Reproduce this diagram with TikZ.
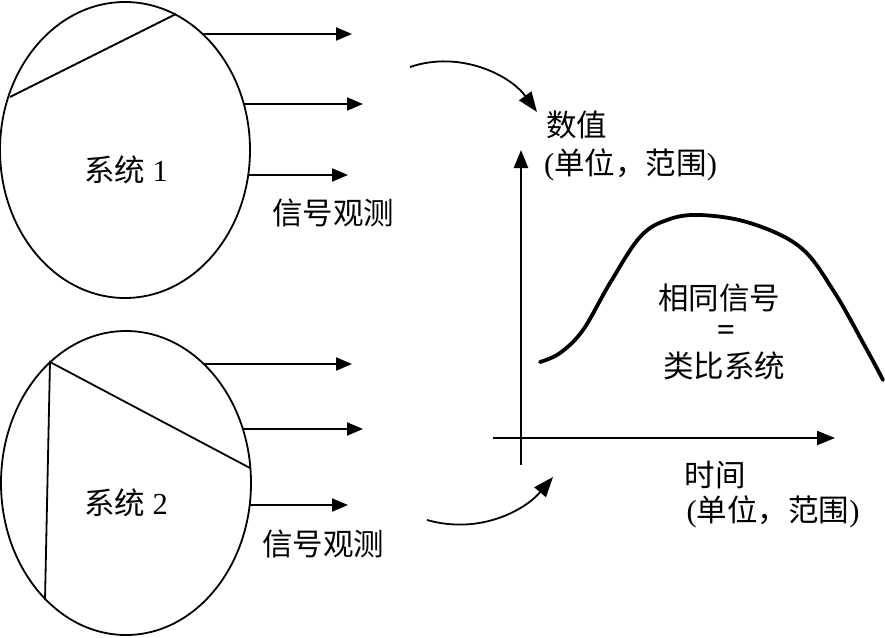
\documentclass[tikz,border=0pt]{standalone}
\usepackage{fontspec}
\setmainfont{Liberation Serif}
\newfontfamily\cjk{Noto Sans CJK SC}
\usetikzlibrary{arrows.meta,shapes.geometric}
\begin{document}
\begin{tikzpicture}[x=1pt,y=-1pt,
  sysline/.style={line width=1.8pt},
  obsarrow/.style={line width=2pt,-{Triangle[length=16pt,width=13pt]}},
  bentarrow/.style={line width=1.8pt,-{Triangle[length=20pt,width=15pt]}},
  axisarrow/.style={line width=2.4pt,-{Triangle[length=18pt,width=14pt]}},
  lbl/.style={inner sep=0pt,font=\fontsize{30.5}{36}\selectfont}]
\useasboundingbox (0,0) rectangle (885,637);
\fill[white] (0,0) rectangle (885,637);
% system 1
\node[ellipse,draw,sysline,minimum width=250pt,minimum height=296pt,inner sep=0pt] (s1) at (125,150) {};
\coordinate (c1a) at (10,97);
\coordinate (c1b) at (176,14);
\draw[sysline] (c1a) -- (c1b);
\node[lbl] (t1) at (126,170) {{\cjk 系统} 1};
\coordinate (o1s) at (203,34);  \coordinate (o1e) at (352,34);
\coordinate (o2s) at (243,104); \coordinate (o2e) at (363,104);
\coordinate (o3s) at (248,175); \coordinate (o3e) at (348,175);
\draw[obsarrow] (o1s) -- (o1e);
\draw[obsarrow] (o2s) -- (o2e);
\draw[obsarrow] (o3s) -- (o3e);
\node[lbl] (obs1) at (333,213) {\cjk 信号观测};
% system 2
\node[ellipse,draw,sysline,minimum width=250pt,minimum height=304pt,inner sep=0pt] (s2) at (126,483) {};
\coordinate (c2a) at (50,362);
\coordinate (c2b) at (250,468);
\coordinate (c2c) at (45,600);
\draw[sysline] (c2b) -- (c2a) -- (c2c);
\node[lbl] (t2) at (126,503) {{\cjk 系统} 2};
\coordinate (p1s) at (203,364); \coordinate (p1e) at (352,364);
\coordinate (p2s) at (242,429); \coordinate (p2e) at (363,429);
\coordinate (p3s) at (249,505); \coordinate (p3e) at (348,505);
\draw[obsarrow] (p1s) -- (p1e);
\draw[obsarrow] (p2s) -- (p2e);
\draw[obsarrow] (p3s) -- (p3e);
\node[lbl] (obs2) at (323,544) {\cjk 信号观测};
% bent arrows
\coordinate (b1s) at (410,67);  \coordinate (b1e) at (537,112);
\draw[bentarrow] (b1s) .. controls (460,50) and (510,75) .. (b1e);
\coordinate (b2s) at (427,520); \coordinate (b2e) at (553,477);
\draw[bentarrow] (b2s) .. controls (480,535) and (525,510) .. (b2e);
% axes
\coordinate (yb) at (521,465); \coordinate (yt) at (521,150);
\coordinate (xl) at (493,438); \coordinate (xr) at (835,438);
\draw[axisarrow] (yb) -- (yt);
\draw[axisarrow] (xl) -- (xr);
\node[lbl,anchor=west] (yl1) at (546,125) {\cjk 数值};
\node[lbl,anchor=west] (yl2) at (544,165) {({\cjk 单位，范围})};
\node[lbl] (xl1) at (715,475) {\cjk 时间};
\node[lbl] (xl2) at (773,512) {({\cjk 单位，范围})};
% curve
\draw[line width=3.8pt,line cap=round] plot[smooth,tension=0.6] coordinates {(540,362) (560,353) (583,330) (610,283) (640,237) (667,220) (700,215) (750,223) (800,247) (833,290) (867,350) (883,380)};
\node[lbl] (m1) at (719,298) {\cjk 相同信号};
\node[inner sep=0pt,font=\fontsize{32}{34}\selectfont\bfseries] (m2) at (726,333) {=};
\node[lbl] (m3) at (724,366) {\cjk 类比系统};
\end{tikzpicture}
\end{document}
